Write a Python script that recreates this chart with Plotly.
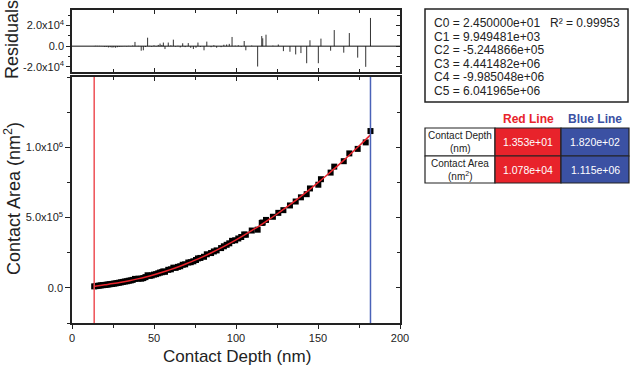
import plotly.graph_objects as go

# ---- data ----
depth = [13.53,14.5,15.6,16.7,17.8,18.9,20.0,21.1,22.2,23.3,24.4,25.5,26.6,27.7,28.8,29.9,31.0,32.2,33.4,34.6,35.8,37.0,38.4,40.5,42.2,43.5,44.8,46.1,47.4,48.6,50.0,51.3,52.6,53.7,54.8,55.7,56.7,58.7,60.3,61.8,63.2,64.6,66.0,67.5,69.0,70.9,72.4,74.0,75.6,76.8,78.3,80.5,82.2,84.8,86.5,88.2,90.9,92.6,94.3,95.9,97.6,99.5,101.4,103.2,105.0,106.0,109.6,113.2,115.7,116.3,118.3,122.5,125.8,128.9,132.9,136.4,139.6,143.1,145.1,150.2,151.8,157.7,159.9,165.7,169.1,174.2,179.1,182.0]
area = [10500,12400,14300,16100,17900,19300,20700,22700,24100,26200,27800,30100,31800,34500,36900,39400,42000,45100,47100,50600,53000,56700,63700,65400,65400,69500,76500,89400,85500,88400,94400,97600,103600,108800,111400,117000,114400,128300,131900,143500,142400,149300,153700,164300,167400,180100,182600,189100,198300,209400,212800,221100,238700,247600,259100,266500,283000,295600,306300,316900,334500,338400,351200,361900,379900,377800,407800,413800,462100,464400,483200,505700,533500,552800,586200,614200,644100,666400,707200,733600,773000,820000,862400,901100,956500,988600,1034800,1115400]
residual = [200,400,300,300,200,-300,-800,-600,-1200,-1000,-1400,-1200,-1500,-1000,-800,-500,-300,200,-400,300,-200,600,4100,300,-4400,-4000,-800,8200,300,-600,800,-300,1200,2500,1200,3500,-2800,3500,800,6300,-500,400,-1200,2800,-900,3000,-1600,-2800,-1500,3500,-800,-4000,4400,-1000,900,-1500,-950,1400,1600,2200,8900,500,800,-600,5000,-4000,600,-19700,9800,7600,11100,500,1600,-4800,-5400,-8000,-6700,-16500,5700,-16500,7300,-4400,15600,-6300,12700,-11100,-20000,27300]
fit_depth = [13.53,15,20,25,30,35,40,45,50,55,60,65,70,75,80,85,90,95,100,105,110,115,120,125,130,135,140,145,150,155,160,165,170,175,182.0]
fit_area = [10300,12900,21500,30300,40200,51200,63800,77900,93600,110900,129900,150600,172900,196900,222500,249700,278600,309100,341200,374900,410100,447000,485400,525300,566900,609900,654500,700600,748200,797300,847900,899900,953500,1008600,1088100]
red_line_depth = 13.53
blue_line_depth = 182.0
coef_text = ["C0 = 2.450000e+01", "C1 = 9.949481e+03", "C2 = -5.244866e+05",
             "C3 = 4.441482e+06", "C4 = -9.985048e+06", "C5 = 6.041965e+06"]
r2_text = "R\u00b2 = 0.99953"
row_labels = [("Contact Depth", "(nm)"), ("Contact Area", "(nm<sup>2</sup>)")]
red_values = ["1.353e+01", "1.078e+04"]
blue_values = ["1.820e+02", "1.115e+06"]
x_ticks = [0, 50, 100, 150, 200]
y_ticks = [0, 5e5, 1e6]
y_ticktext = ["0.0", "5.0x10<sup>5</sup>", "1.0x10<sup>6</sup>"]
r_ticks = [-2e4, 0, 2e4]
r_ticktext = ["-2.0x10<sup>4</sup>", "0.0", "2.0x10<sup>4</sup>"]

# ---- styling ----
FONT = "Liberation Sans"
RED = "#e8232b"
RED_VLINE = "#ee4f55"
BLUE = "#3b51a3"
BLUE_VLINE = "#4a62b8"
W, H = 631, 373
L, R, T, B = 72, 400, 10, 323  # plot area in page pixels

def X(px):
    return (px - L) / (R - L)

def Y(py):
    return (B - py) / (B - T)

main_dom = [0, Y(77)]
res_dom = [Y(72), 1]

fig = go.Figure()

# residual sticks
sx, sy = [], []
for d, r in zip(depth, residual):
    sx += [d, d, None]
    sy += [0, r, None]
fig.add_trace(go.Scatter(x=sx, y=sy, mode="lines", line=dict(color="#333333", width=1),
                         xaxis="x2", yaxis="y2", showlegend=False, hoverinfo="skip"))
fig.add_trace(go.Scatter(x=[0, 200], y=[0, 0], mode="lines", line=dict(color="#111111", width=1),
                         xaxis="x2", yaxis="y2", showlegend=False, hoverinfo="skip"))

# data points
fig.add_trace(go.Scatter(x=depth, y=area, mode="markers",
                         marker=dict(symbol="square", size=6, color="black"),
                         xaxis="x", yaxis="y", showlegend=False))
# fit line
fig.add_trace(go.Scatter(x=fit_depth, y=fit_area, mode="lines",
                         line=dict(color=RED, width=1.5, shape="spline"),
                         xaxis="x", yaxis="y", showlegend=False))

# dummy traces for mirror (inside-tick) axes
for xa, ya in [("x3", "y3"), ("x4", "y4")]:
    fig.add_trace(go.Scatter(x=[None], y=[None], xaxis=xa, yaxis=ya, showlegend=False, hoverinfo="skip"))

axis_line = dict(showline=True, linecolor="#222222", linewidth=1.5, showgrid=False, zeroline=False)
tickfont = dict(family=FONT, size=11, color="#222222")

fig.update_layout(
    width=W, height=H,
    margin=dict(l=L, r=W - R, t=T, b=H - B, pad=0),
    paper_bgcolor="white", plot_bgcolor="white",
    font=dict(family=FONT, color="#222222"),
    xaxis=dict(domain=[0, 1], anchor="y", range=[0, 200], tickvals=x_ticks, ticks="outside",
               ticklen=4, tickwidth=1, tickcolor="#222222", tickfont=tickfont,
               minor=dict(dtick=25, tick0=0, ticks="outside", ticklen=3, tickcolor="#222222"), **axis_line),
    yaxis=dict(domain=main_dom, anchor="x", range=[-2.5e5, 1.5e6], tickvals=y_ticks, ticktext=y_ticktext,
               ticks="outside", ticklen=5, tickwidth=1, tickcolor="#222222", tickfont=tickfont,
               minor=dict(dtick=2.5e5, tick0=0, ticks="outside", ticklen=3, tickcolor="#222222"), **axis_line),
    xaxis3=dict(overlaying="x", side="top", anchor="y", range=[0, 200], tickvals=x_ticks, ticks="inside",
                ticklen=4, tickcolor="#222222", showticklabels=False,
                minor=dict(dtick=25, tick0=0, ticks="inside", ticklen=3, tickcolor="#222222"), **axis_line),
    yaxis3=dict(overlaying="y", side="right", anchor="x", range=[-2.5e5, 1.5e6], tickvals=y_ticks,
                ticks="inside", ticklen=4, tickcolor="#222222", showticklabels=False,
                minor=dict(dtick=2.5e5, tick0=0, ticks="inside", ticklen=3, tickcolor="#222222"), **axis_line),
    xaxis2=dict(domain=[0, 1], anchor="y2", range=[0, 200], tickvals=x_ticks, ticks="inside",
                ticklen=4, tickcolor="#222222", showticklabels=False,
                minor=dict(dtick=25, tick0=0, ticks="inside", ticklen=3, tickcolor="#222222"), **axis_line),
    yaxis2=dict(domain=res_dom, anchor="x2", range=[-2.5e4, 3.5e4], tickvals=r_ticks, ticktext=r_ticktext,
                ticks="outside", ticklen=4, tickwidth=1, tickcolor="#222222", tickfont=tickfont,
                minor=dict(dtick=1e4, tick0=0, ticks="outside", ticklen=2, tickcolor="#222222"), **axis_line),
    xaxis4=dict(overlaying="x2", side="top", anchor="y2", range=[0, 200], tickvals=x_ticks, ticks="inside",
                ticklen=4, tickcolor="#222222", showticklabels=False,
                minor=dict(dtick=25, tick0=0, ticks="inside", ticklen=3, tickcolor="#222222"), **axis_line),
    yaxis4=dict(overlaying="y2", side="right", anchor="x2", range=[-2.5e4, 3.5e4], tickvals=r_ticks,
                ticks="inside", ticklen=4, tickcolor="#222222", showticklabels=False,
                minor=dict(dtick=1e4, tick0=0, ticks="inside", ticklen=3, tickcolor="#222222"), **axis_line),
)

shapes = []
# vertical marker lines in main plot
shapes.append(dict(type="line", xref="x", yref="y domain", x0=red_line_depth, x1=red_line_depth, y0=0, y1=1,
                   line=dict(color=RED_VLINE, width=1.5)))
shapes.append(dict(type="line", xref="x", yref="y domain", x0=blue_line_depth, x1=blue_line_depth, y0=0, y1=1,
                   line=dict(color=BLUE_VLINE, width=1.5)))
# coefficient box
shapes.append(dict(type="rect", xref="paper", yref="paper", x0=X(425), x1=X(628), y0=Y(102), y1=Y(9),
                   line=dict(color="#222222", width=1.5)))
# results table cells
row_px = [(128, 156), (156, 183)]
for (y0, y1) in row_px:
    shapes.append(dict(type="rect", xref="paper", yref="paper", x0=X(425), x1=X(495), y0=Y(y1), y1=Y(y0),
                       fillcolor="white", line=dict(color="#222222", width=1.2)))
    shapes.append(dict(type="rect", xref="paper", yref="paper", x0=X(495), x1=X(561), y0=Y(y1), y1=Y(y0),
                       fillcolor=RED, line=dict(color="#222222", width=1.2)))
    shapes.append(dict(type="rect", xref="paper", yref="paper", x0=X(561), x1=X(629), y0=Y(y1), y1=Y(y0),
                       fillcolor=BLUE, line=dict(color="#222222", width=1.2)))

ann = []
def text(px, py, s, size=12, color="#222222", xanchor="left", angle=0, bold=False):
    if bold:
        s = "<b>" + s + "</b>"
    ann.append(dict(xref="paper", yref="paper", x=X(px), y=Y(py), text=s, showarrow=False,
                    xanchor=xanchor, yanchor="middle", textangle=angle,
                    font=dict(family=FONT, size=size, color=color)))

# axis titles
text(237, 356, "Contact Depth (nm)", size=17, xanchor="center")
text(12, 199, "Contact Area (nm<sup>2</sup>)", size=18, xanchor="center", angle=-90)
text(12, 40, "Residuals", size=18, xanchor="center", angle=-90)

# coefficient box text
for i, s in enumerate(coef_text):
    text(432, 23 + i * 13.6, s, size=12)
text(622, 23, r2_text, size=12, xanchor="right")

# table header
text(528, 119, "Red Line", size=12, color=RED, xanchor="center", bold=True)
text(595, 119, "Blue Line", size=12, color=BLUE, xanchor="center", bold=True)
for i, ((l1, l2), rv, bv) in enumerate(zip(row_labels, red_values, blue_values)):
    y0, y1 = row_px[i]
    yc = (y0 + y1) / 2
    text(460, yc - 6.5, l1, size=10, xanchor="center")
    text(460, yc + 6.5, l2, size=10, xanchor="center")
    text(528, yc, rv, size=10.5, color="white", xanchor="center")
    text(595, yc, bv, size=10.5, color="white", xanchor="center")

fig.update_layout(shapes=shapes, annotations=ann)
fig.write_html("out.html", config={"displayModeBar": False},
               post_script="document.body.style.margin='0';document.body.style.overflow='hidden';")
